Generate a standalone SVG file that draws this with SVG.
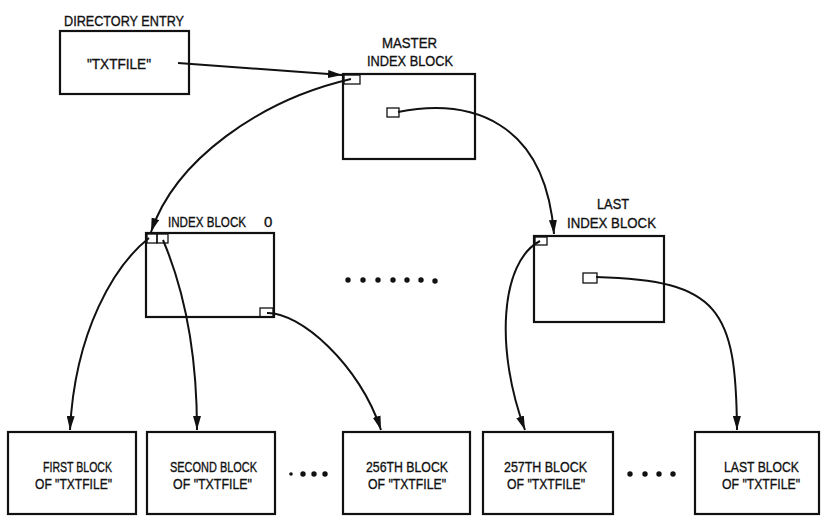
<svg xmlns="http://www.w3.org/2000/svg" width="821" height="516" viewBox="0 0 821 516">
<defs>
<style>
.box{fill:#fff;stroke:#111;stroke-width:2.2}
.sb{fill:none;stroke:#111;stroke-width:1.3}
.ln{fill:none;stroke:#111;stroke-width:2;marker-end:url(#ah)}
.t{font-family:"Liberation Sans","Arial",sans-serif;font-size:15px;fill:#111;stroke:#111;stroke-width:0.35}
.dot{fill:#111}
</style>
<marker id="ah" viewBox="0 0 14 8" refX="14" refY="4" markerWidth="14" markerHeight="8" markerUnits="userSpaceOnUse" orient="auto">
<path d="M0,0 L14,4 L0,8 Z" fill="#111"/>
</marker>
</defs>
<rect width="821" height="516" fill="#fff"/>

<g id="directory-entry">
<text class="t" x="64" y="26" textLength="120" lengthAdjust="spacingAndGlyphs">DIRECTORY ENTRY</text>
<rect class="box" x="60" y="31" width="129" height="63"/>
<text class="t" x="87" y="69" textLength="64" lengthAdjust="spacingAndGlyphs">"TXTFILE"</text>
</g>

<g id="master-index-block">
<text class="t" x="382" y="48" textLength="55" lengthAdjust="spacingAndGlyphs">MASTER</text>
<text class="t" x="367" y="66" textLength="86" lengthAdjust="spacingAndGlyphs">INDEX BLOCK</text>
<rect class="box" x="343" y="74" width="132" height="85"/>
<rect class="sb" x="344" y="75" width="16" height="9"/>
<rect class="sb" x="387" y="108" width="12" height="9"/>
</g>

<g id="index-block-0">
<text class="t" x="168" y="227" style="font-size:14px" textLength="78" lengthAdjust="spacingAndGlyphs">INDEX BLOCK</text>
<text class="t" x="264" y="227">0</text>
<rect class="box" x="146" y="233" width="128" height="84"/>
<rect class="sb" x="147" y="234" width="10" height="9"/>
<rect class="sb" x="157" y="234" width="11" height="9"/>
<rect class="sb" x="260" y="308" width="13" height="9"/>
</g>

<g id="ellipsis-middle">
<circle class="dot" cx="348" cy="280" r="2.7"/>
<circle class="dot" cx="363" cy="280" r="2.7"/>
<circle class="dot" cx="378" cy="280" r="2.7"/>
<circle class="dot" cx="393" cy="280" r="2.7"/>
<circle class="dot" cx="407" cy="280" r="2.7"/>
<circle class="dot" cx="421" cy="280" r="2.7"/>
<circle class="dot" cx="435" cy="281" r="2.7"/>
</g>

<g id="last-index-block">
<text class="t" x="597" y="209" textLength="32" lengthAdjust="spacingAndGlyphs">LAST</text>
<text class="t" x="567" y="228" textLength="89" lengthAdjust="spacingAndGlyphs">INDEX BLOCK</text>
<rect class="box" x="534" y="236" width="130" height="86"/>
<rect class="sb" x="535" y="237" width="12" height="8"/>
<rect class="sb" x="583" y="273" width="14" height="10"/>
</g>

<g id="first-block">
<rect class="box" x="8" y="432" width="128" height="82"/>
<text class="t" x="43" y="472" textLength="69" lengthAdjust="spacingAndGlyphs">FIRST BLOCK</text>
<text class="t" x="35" y="489" textLength="77" lengthAdjust="spacingAndGlyphs">OF "TXTFILE"</text>
</g>

<g id="second-block">
<rect class="box" x="147" y="432" width="128" height="82"/>
<text class="t" x="170" y="472" textLength="87" lengthAdjust="spacingAndGlyphs">SECOND BLOCK</text>
<text class="t" x="173" y="489" textLength="79" lengthAdjust="spacingAndGlyphs">OF "TXTFILE"</text>
</g>

<g id="ellipsis-bottom-1">
<circle class="dot" cx="291" cy="474" r="1.8"/>
<circle class="dot" cx="303" cy="474" r="2.7"/>
<circle class="dot" cx="314" cy="474" r="2.7"/>
<circle class="dot" cx="325" cy="474" r="2.7"/>
</g>

<g id="block-256">
<rect class="box" x="343" y="432" width="127" height="82"/>
<text class="t" x="366" y="472" textLength="82" lengthAdjust="spacingAndGlyphs">256TH BLOCK</text>
<text class="t" x="368" y="489" textLength="78" lengthAdjust="spacingAndGlyphs">OF "TXTFILE"</text>
</g>

<g id="block-257">
<rect class="box" x="483" y="432" width="130" height="82"/>
<text class="t" x="504" y="472" textLength="83" lengthAdjust="spacingAndGlyphs">257TH BLOCK</text>
<text class="t" x="507" y="489" textLength="78" lengthAdjust="spacingAndGlyphs">OF "TXTFILE"</text>
</g>

<g id="ellipsis-bottom-2">
<circle class="dot" cx="630" cy="474" r="2.7"/>
<circle class="dot" cx="645" cy="474" r="2.7"/>
<circle class="dot" cx="659" cy="474" r="2.7"/>
<circle class="dot" cx="673" cy="474" r="2.7"/>
</g>

<g id="last-block">
<rect class="box" x="695" y="432" width="124" height="82"/>
<text class="t" x="724" y="472" textLength="75" lengthAdjust="spacingAndGlyphs">LAST BLOCK</text>
<text class="t" x="722" y="489" textLength="78" lengthAdjust="spacingAndGlyphs">OF "TXTFILE"</text>
</g>

<g id="connectors">
<path class="ln" d="M178,63 L342,75"/>
<path class="ln" d="M351,79 C260,100 175,160 151,232"/>
<path class="ln" d="M398,112 C470,98 545,120 554,234"/>
<path class="ln" d="M149,238 C115,265 75,330 70,430"/>
<path class="ln" d="M163,240 C180,280 197,340 197,430"/>
<path class="ln" d="M267,313 C300,312 360,365 381,430"/>
<path class="ln" d="M540,241 C500,262 495,350 525,430"/>
<path class="ln" d="M596,277 C720,280 736,310 737,430"/>
</g>
</svg>
